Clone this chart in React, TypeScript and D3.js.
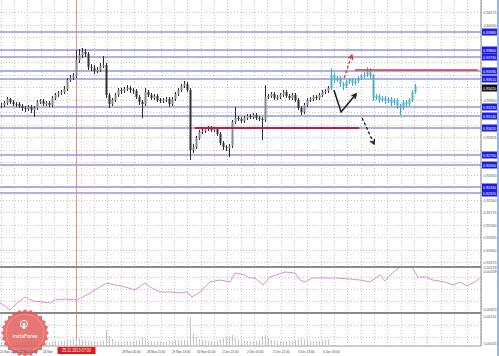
import React from "react";
import * as d3 from "d3";

// ---------- DATA ----------
const firstOpen = 0.9324;
const closes = [
  0.9325,0.9327,0.9331,0.9328,0.9326,0.9326,0.9324,0.9322,0.9321,0.9323,
  0.9320,0.9322,0.9328,0.9329,0.9326,0.9327,0.9325,0.9332,0.9335,0.9337,
  0.9338,0.9341,0.9350,0.9352,0.9354,0.9370,0.9375,0.9378,0.9376,0.9363,
  0.9362,0.9359,0.9360,0.9364,0.9365,0.9335,0.9326,0.9330,0.9335,0.9340,
  0.9339,0.9341,0.9342,0.9340,0.9339,0.9333,0.9328,0.9326,0.9338,0.9335,
  0.9332,0.9334,0.9330,0.9329,0.9330,0.9331,0.9326,0.9331,0.9336,0.9340,
  0.9344,0.9346,0.9340,0.9280,0.9283,0.9292,0.9298,0.9299,0.9301,0.9302,
  0.9300,0.9301,0.9296,0.9287,0.9283,0.9282,0.9284,0.9308,0.9312,0.9311,
  0.9309,0.9312,0.9314,0.9313,0.9315,0.9312,0.9311,0.9310,0.9333,0.9334,
  0.9336,0.9332,0.9333,0.9335,0.9338,0.9334,0.9332,0.9335,0.9330,0.9322,
  0.9318,0.9325,0.9330,0.9331,0.9333,0.9332,0.9335,0.9338,0.9339,0.9342,
  // latest segment (cyan)
  0.9355,0.9350,0.9352,0.9346,0.9344,0.9348,0.9350,0.9347,0.9349,0.9352,
  0.9354,0.9355,0.9360,0.9354,0.9332,0.9334,0.9330,0.9332,0.9329,0.9331,
  0.9327,0.9330,0.9324,0.9322,0.9328,0.9326,0.9330,0.9338,0.9344,
];
const highs = [
  0.9327,0.9329,0.9333,0.9332,0.9330,0.9328,0.9328,0.9326,0.9324,0.9325,
  0.9325,0.9324,0.9330,0.9331,0.9331,0.9329,0.9329,0.9334,0.9337,0.9339,
  0.9340,0.9344,0.9352,0.9355,0.9357,0.9380,0.9381,0.9382,0.9381,0.9378,
  0.9366,0.9365,0.9363,0.9367,0.9374,0.9367,0.9337,0.9332,0.9337,0.9342,
  0.9342,0.9343,0.9345,0.9344,0.9342,0.9341,0.9335,0.9330,0.9342,0.9340,
  0.9337,0.9336,0.9336,0.9332,0.9332,0.9333,0.9333,0.9333,0.9338,0.9342,
  0.9346,0.9349,0.9348,0.9342,0.9286,0.9294,0.9300,0.9301,0.9303,0.9304,
  0.9304,0.9303,0.9303,0.9298,0.9289,0.9285,0.9286,0.9310,0.9323,0.9314,
  0.9313,0.9314,0.9316,0.9316,0.9317,0.9317,0.9314,0.9313,0.9345,0.9336,
  0.9338,0.9338,0.9335,0.9337,0.9340,0.9340,0.9336,0.9337,0.9337,0.9332,
  0.9324,0.9327,0.9332,0.9333,0.9335,0.9335,0.9337,0.9340,0.9341,0.9344,
  0.9362,0.9357,0.9354,0.9354,0.9348,0.9350,0.9352,0.9352,0.9351,0.9354,
  0.9356,0.9358,0.9363,0.9362,0.9356,0.9336,0.9336,0.9334,0.9334,0.9333,
  0.9333,0.9332,0.9332,0.9326,0.9330,0.9330,0.9332,0.9340,0.9346,
];
const lows = [
  0.9322,0.9323,0.9325,0.9326,0.9324,0.9323,0.9322,0.9319,0.9318,0.9319,
  0.9317,0.9313,0.9320,0.9326,0.9324,0.9324,0.9323,0.9323,0.9330,0.9333,
  0.9335,0.9336,0.9339,0.9348,0.9350,0.9352,0.9367,0.9372,0.9373,0.9360,
  0.9359,0.9356,0.9357,0.9358,0.9362,0.9332,0.9322,0.9324,0.9328,0.9333,
  0.9336,0.9337,0.9339,0.9337,0.9336,0.9331,0.9325,0.9312,0.9324,0.9333,
  0.9330,0.9330,0.9328,0.9327,0.9327,0.9328,0.9323,0.9324,0.9329,0.9334,
  0.9338,0.9342,0.9338,0.9270,0.9277,0.9281,0.9290,0.9296,0.9297,0.9299,
  0.9298,0.9298,0.9294,0.9285,0.9280,0.9279,0.9273,0.9282,0.9306,0.9309,
  0.9307,0.9307,0.9310,0.9311,0.9311,0.9310,0.9309,0.9290,0.9308,0.9331,
  0.9332,0.9330,0.9330,0.9331,0.9333,0.9332,0.9330,0.9330,0.9328,0.9320,
  0.9315,0.9316,0.9323,0.9328,0.9329,0.9330,0.9330,0.9333,0.9336,0.9337,
  0.9340,0.9347,0.9348,0.9343,0.9340,0.9342,0.9346,0.9344,0.9345,0.9347,
  0.9350,0.9352,0.9353,0.9352,0.9329,0.9330,0.9327,0.9328,0.9326,0.9327,
  0.9324,0.9325,0.9321,0.9315,0.9320,0.9323,0.9324,0.9328,0.9336,
];
const cyanFrom = 110;

const volumes = [
  300,250,400,350,300,280,320,260,300,350, 420,500,380,300,280,260,300,350,420,380,
  400,450,520,480,600,700,650,500,450,400, 380,420,350,400,450,1500,900,600,450,400,
  380,350,420,400,380,450,500,800,600,450, 400,380,420,350,300,320,450,400,500,550,
  480,520,600,2800,1200,800,600,500,450,400, 420,380,450,600,700,800,900,1000,700,550,
  500,450,420,400,380,420,500,900,1000,700, 500,450,420,400,380,420,450,400,500,600,
  700,550,450,400,380,420,400,450,500,550,
];

const oscIdx = [
  -0.5,1.2,2.8,4.5,7.8,10.5,13.5,16.2,17.8,21.2,25.2,29.5,32.8,35.2,37.8,41.2,44.5,47.8,49.5,52.8,
  56.2,59.5,61.8,63.5,66.2,69.5,72.8,76.2,77.8,81.2,82.5,84.5,87.2,89.5,94.5,97.8,99.5,101.2,103.5,106.2,
  111.2,116.2,119.5,122.8,126.2,127.8,130.2,132.8,136.8,138.8,141.2,143.8,147.8,150.5,152.8,155.2,157.8,159.5,
];
const oscVal = [
  21.7,15.2,6.5,17.4,34.8,26.1,23.9,21.7,28.3,30.4,28.3,43.5,56.5,65.2,60.9,56.5,50.0,65.2,56.5,45.7,
  45.7,43.5,45.7,34.8,45.7,67.4,71.7,67.4,87.0,82.6,76.1,76.1,60.9,78.3,89.1,87.0,71.7,67.4,76.1,76.1,
  76.1,73.9,71.7,67.4,82.6,69.6,87.0,100,100,78.3,78.3,71.7,67.4,60.9,67.4,58.7,67.4,76.1,
];

const levels = [0.9398, 0.9380, 0.9373, 0.9359, 0.9351, 0.9323, 0.9314, 0.9302, 0.9275, 0.9265, 0.9243, 0.9237];
const priceTicks = [
  0.94175,0.94050,0.93925,0.93800,0.93675,0.93550,0.93425,0.93300,0.93175,0.93050,0.92925,
  0.92800,0.92675,0.92550,0.92425,0.92300,0.92175,0.92050,0.91925,0.91800,0.91675,
];
const currentPrice = 0.9342;
const resistance = { price: 0.9360, from: 117.8, to: 158.8 };
const support = { price: 0.9302, from: 64.5, to: 119.2 };
const markerIdx = 25;
const markerLabel = "25.11.2013 07:00";
const timeTickIdx = [-0.5, 5.8, 13.8, 40.2, 48.5, 56.8, 65.2, 73.5, 81.8, 90.5, 98.8, 107.2];
const timeTickLabels = [
  "21 Nov 12:00", "22 Nov 05:00", "24 Nov", "28 Nov 05:00", "28 Nov 21:00", "29 Nov 13:00",
  "30 Nov 05:00", "1 Dec 21:00", "2 Dec 05:00", "2 Dec 21:00", "3 Dec 13:00", "4 Dec 05:00",
];
const oscLabels = ["0.00219", "0.00209", "0.00913", "0.04131", "0.00015"];

// arrows: [index, price] points
const arrowUpRed = [[114.2, 0.9352], [116.8, 0.9375]];
const arrowV = [[110.8, 0.9340], [113.2, 0.9318], [118.2, 0.9336]];
const arrowDown = [[120.2, 0.9312], [124.2, 0.9286]];

// ---------- LAYOUT ----------
const W = 499, H = 356;
const PR = 481;
const MAIN_B = 266;
const OSC_T = 267, OSC_B = 313;
const VOL_T = 314, VOL_B = 345;
const AXIS_Y = 346;

const x = d3.scaleLinear().domain([0, 160]).range([1.5, 481.5]);
const y = d3.scaleLinear().domain([0.9164, 0.9430]).range([MAIN_B, 0]);
const yo = d3.scaleLinear().domain([0, 100]).range([OSC_B, OSC_T]).clamp(true);
const yv = d3.scaleLinear().domain([0, 3100]).range([VOL_B, VOL_T]);

const FONT = "'Liberation Sans', Arial, sans-serif";

function arrowHead(pts: number[][], len = 5) {
  const [x1, y1] = pts[pts.length - 2];
  const [x2, y2] = pts[pts.length - 1];
  const a = Math.atan2(y2 - y1, x2 - x1);
  const p1 = [x2 - len * Math.cos(a - 0.5), y2 - len * Math.sin(a - 0.5)];
  const p2 = [x2 - len * Math.cos(a + 0.5), y2 - len * Math.sin(a + 0.5)];
  return `M${p1[0]},${p1[1]}L${x2},${y2}L${p2[0]},${p2[1]}`;
}

export default function App() {
  const toPx = (arr: number[][]) => arr.map(([i, p]) => [x(i), y(p)]);
  const redPts = toPx(arrowUpRed);
  const vPts = toPx(arrowV);
  const downPts = toPx(arrowDown);
  const line = d3.line();

  const vGrid = d3.range(0, 37).map((k) => 1 + (k * 40) / 3);
  const labelYs = [...levels.map((l) => y(l)), y(currentPrice)];

  const oscLine = d3
    .line<number>()
    .x((_, i) => x(oscIdx[i]))
    .y((v) => yo(v));

  const gear = d3.range(0, 48).map((k) => {
    const a = (k / 48) * Math.PI * 2;
    const r = k % 2 === 0 ? 24 : 21.5;
    return [25 + r * Math.cos(a), 333 + r * Math.sin(a)] as [number, number];
  });

  const axisText = (key: string | number, tx: number, ty: number, s: string, fill: string) => (
    <text key={key} x={tx} y={ty} fill={fill} fontSize={4.4} textLength={13} lengthAdjust="spacingAndGlyphs">
      {s}
    </text>
  );

  return (
    <svg
      width={W}
      height={H}
      style={{ position: "absolute", left: 0, top: 0, background: "#fff" }}
      fontFamily={FONT}
    >
      <rect x={0} y={0} width={W} height={H} fill="#fff" />
      <defs>
        <clipPath id="mainClip">
          <rect x={0} y={0} width={PR} height={MAIN_B} />
        </clipPath>
        <clipPath id="oscClip">
          <rect x={0} y={OSC_T} width={PR} height={OSC_B - OSC_T} />
        </clipPath>
      </defs>

      {/* grid */}
      <g stroke="#c4c4c4" strokeWidth={1} strokeDasharray="1,2" shapeRendering="crispEdges">
        {vGrid.map((gx, i) => (
          <line key={"v" + i} x1={gx} x2={gx} y1={0} y2={AXIS_Y} />
        ))}
        {priceTicks.map((p, i) => (
          <line key={"h" + i} x1={0} x2={PR} y1={y(p)} y2={y(p)} />
        ))}
        {[277, 289, 301, 325, 337].map((gy, i) => (
          <line key={"o" + i} x1={0} x2={PR} y1={gy} y2={gy} />
        ))}
      </g>

      {/* vertical marker */}
      <line x1={x(markerIdx)} x2={x(markerIdx)} y1={0} y2={AXIS_Y} stroke="#f08a8a" strokeWidth={1} />

      {/* levels */}
      <g>
        {levels.map((l, i) => (
          <line key={i} x1={0} x2={PR} y1={y(l)} y2={y(l)} stroke="#9696dc" strokeWidth={1.6} />
        ))}
      </g>

      {/* candles */}
      <g clipPath="url(#mainClip)">
        {closes.map((c, i) => {
          const o = i === 0 ? firstOpen : closes[i - 1];
          const cx = x(i);
          const cyan = i >= cyanFrom;
          const col = cyan ? "#3fa9c4" : "#2a2a2a";
          const bodyCol = cyan ? "#4ab4cc" : c > o ? "#8a8a8a" : "#333";
          const y1 = y(Math.max(o, c));
          const y2 = y(Math.min(o, c));
          return (
            <g key={i}>
              <line x1={cx} x2={cx} y1={y(highs[i])} y2={y(lows[i])} stroke={col} strokeWidth={1} />
              <rect x={cx - 1} y={y1} width={2} height={Math.max(1, y2 - y1)} fill={bodyCol} />
            </g>
          );
        })}
      </g>

      {/* support / resistance */}
      <line x1={x(resistance.from)} x2={x(resistance.to)} y1={y(resistance.price)} y2={y(resistance.price)} stroke="#e83535" strokeWidth={1.5} />
      <line x1={x(support.from)} x2={x(support.to)} y1={y(support.price)} y2={y(support.price)} stroke="#c41848" strokeWidth={2} />

      {/* arrows */}
      <path d={line(redPts as [number, number][]) || ""} fill="none" stroke="#e53030" strokeWidth={1.3} strokeDasharray="3,2" />
      <path d={arrowHead(redPts)} fill="none" stroke="#e53030" strokeWidth={1.3} />
      <path d={line(vPts as [number, number][]) || ""} fill="none" stroke="#1a1a1a" strokeWidth={1.5} />
      <path d={arrowHead(vPts)} fill="none" stroke="#1a1a1a" strokeWidth={1.5} />
      <path d={line(downPts as [number, number][]) || ""} fill="none" stroke="#1a1a1a" strokeWidth={1.3} strokeDasharray="3,2" />
      <path d={arrowHead(downPts)} fill="none" stroke="#1a1a1a" strokeWidth={1.3} />

      {/* oscillator */}
      <path d={oscLine(oscVal) || ""} fill="none" stroke="#d98ee2" strokeWidth={1} clipPath="url(#oscClip)" />

      {/* volumes */}
      <g stroke="#c4c4c4" strokeWidth={1}>
        {volumes.map((v, i) => (
          <line key={i} x1={x(i)} x2={x(i)} y1={VOL_B} y2={yv(v)} />
        ))}
      </g>

      {/* separators */}
      <line x1={0} x2={PR} y1={OSC_T} y2={OSC_T} stroke="#8a8a8a" strokeWidth={2} />
      <line x1={0} x2={PR} y1={OSC_B} y2={OSC_B} stroke="#8a8a8a" strokeWidth={2} />
      <line x1={0} x2={PR} y1={AXIS_Y} y2={AXIS_Y} stroke="#9a9a9a" strokeWidth={1} />
      <line x1={PR} x2={PR} y1={0} y2={AXIS_Y} stroke="#8a8a8a" strokeWidth={1} />
      <line x1={498} x2={498} y1={0} y2={H} stroke="#4a64c8" strokeWidth={1} />

      {/* price tick labels */}
      <g>
        {priceTicks.map((p, i) => {
          const py = y(p);
          if (labelYs.some((ly) => Math.abs(ly - py) < 6)) return null;
          return axisText(i, 483.5, py + 1.6, p.toFixed(5), "#555");
        })}
      </g>

      {/* level labels */}
      {levels.map((l, i) => (
        <g key={i}>
          <rect x={482} y={y(l) - 3.5} width={15} height={7} fill="#1d1de0" />
          {axisText("t", 483, y(l) + 1.6, l.toFixed(5), "#fff")}
        </g>
      ))}
      <rect x={482} y={y(currentPrice) - 3.5} width={15} height={7} fill="#111" />
      {axisText("cp", 483, y(currentPrice) + 1.6, currentPrice.toFixed(5), "#fff")}

      {/* oscillator labels */}
      {axisText("o0", 483.5, 268.6, oscLabels[0], "#555")}
      {axisText("o1", 483.5, 273.4, oscLabels[1], "#555")}
      {axisText("o2", 483.5, 311, oscLabels[2], "#555")}
      {axisText("o3", 483.5, 317.6, oscLabels[3], "#555")}
      {axisText("o4", 483.5, 345, oscLabels[4], "#555")}

      {/* watermark */}
      <g opacity={0.82}>
        <polygon points={gear.map((p) => p.join(",")).join(" ")} fill="#e4534f" />
        <circle cx={25} cy={333} r={19} fill="#e25a56" stroke="#f2a09c" strokeWidth={0.6} />
        <circle cx={24} cy={324} r={3.6} fill="none" stroke="#fff" strokeWidth={1} />
        <rect x={22.8} y={323} width={2.4} height={6} fill="#fff" />
        <text x={25} y={337.5} fontSize={5.5} fill="#fff" textAnchor="middle" fontFamily="Lato, sans-serif">
          InstaForex
        </text>
      </g>

      {/* time labels */}
      {timeTickIdx.map((ti, i) => (
        <g key={i} transform={`translate(${x(ti)},352.5) scale(0.7,1)`}>
          <text x={0} y={0} fontSize={4.4} fill="#444">
            {timeTickLabels[i]}
          </text>
        </g>
      ))}
      <rect x={x(markerIdx) - 19} y={347} width={38} height={7} fill="#e01818" />
      <g transform={`translate(${x(markerIdx)},352.2) scale(0.82,1)`}>
        <text x={0} y={0} fontSize={4.6} fill="#fff" textAnchor="middle">
          {markerLabel}
        </text>
      </g>
    </svg>
  );
}
